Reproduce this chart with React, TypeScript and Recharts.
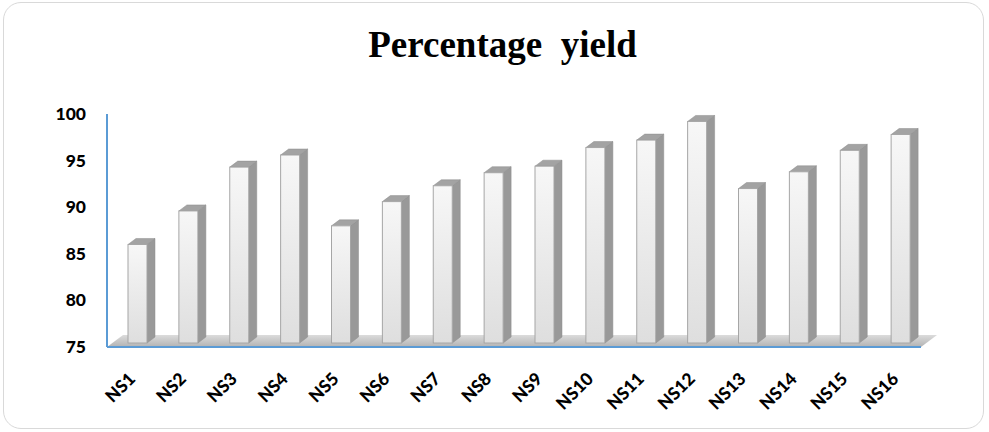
import React from "react";
import { BarChart, Bar, XAxis, YAxis, ReferenceArea } from "recharts";

// Sample labels and their percentage yields
const samples = [
  "NS1", "NS2", "NS3", "NS4", "NS5", "NS6", "NS7", "NS8",
  "NS9", "NS10", "NS11", "NS12", "NS13", "NS14", "NS15", "NS16",
];
const yields = [86, 89.6, 94.3, 95.6, 88, 90.6, 92.3, 93.7, 94.4, 96.4, 97.2, 99.2, 92, 93.8, 96.1, 97.8];
const yTicks = [75, 80, 85, 90, 95, 100];

const data = samples.map((name, i) => ({ name, value: yields[i] }));

const W = 989;
const H = 432;

// 3D look: depth of bar side/top faces and where bars sit on the floor
const DX = 8;
const DY = 6;
const SHIFT_X = 5;
const LIFT = 4;

const Bar3D = (props: any) => {
  const { x, y, width, height } = props;
  if (height == null || width == null) return null;
  const fx = x + SHIFT_X;
  const fy = y;
  const fh = height - LIFT;
  const fw = width;
  const top = `${fx},${fy} ${fx + DX},${fy - DY} ${fx + fw + DX},${fy - DY} ${fx + fw},${fy}`;
  const side = `${fx + fw},${fy} ${fx + fw + DX},${fy - DY} ${fx + fw + DX},${fy + fh - DY} ${fx + fw},${fy + fh}`;
  return (
    <g>
      <polygon points={side} fill="#999999" stroke="#8c8c8c" strokeWidth={0.5} />
      <polygon points={top} fill="#a3a3a3" stroke="#8c8c8c" strokeWidth={0.5} />
      <rect x={fx} y={fy} width={fw} height={fh} fill="url(#frontGrad)" stroke="#a6a6a6" strokeWidth={1} />
    </g>
  );
};

const Floor = (props: any) => {
  const { x, y, width, height } = props;
  const pts = `${x},${y + height} ${x + width},${y + height} ${x + width + 16},${y} ${x + 16},${y}`;
  return <polygon points={pts} fill="url(#floorGrad)" />;
};

const XTick = (props: any) => {
  const { x, y, payload } = props;
  const tx = x + 4;
  const ty = y + 25;
  return (
    <text
      x={tx}
      y={ty}
      textAnchor="end"
      transform={`rotate(-45, ${tx}, ${ty})`}
      fontFamily="Lato, 'Liberation Sans', sans-serif"
      fontWeight={900}
      fontSize={17.5}
      fill="#000"
    >
      {payload.value}
    </text>
  );
};

const YTick = (props: any) => {
  const { x, y, payload } = props;
  return (
    <text
      x={x}
      y={y}
      dy={6}
      textAnchor="end"
      fontFamily="Lato, 'Liberation Sans', sans-serif"
      fontWeight={900}
      fontSize={17.5}
      fill="#000"
    >
      {payload.value}
    </text>
  );
};

export default function App() {
  return (
    <div style={{ position: "absolute", left: 0, top: 0, width: W, height: H, background: "#fff" }}>
      <div
        style={{
          position: "absolute",
          left: 3,
          top: 2,
          width: W - 8,
          height: H - 5,
          border: "1.5px solid #d9d9d9",
          borderRadius: 18,
          boxSizing: "border-box",
        }}
      />
      <div
        style={{
          position: "absolute",
          left: 0,
          top: 25,
          width: 1005,
          textAlign: "center",
          fontFamily: "'Liberation Serif', 'Times New Roman', serif",
          fontWeight: 700,
          fontSize: 37,
          lineHeight: "40px",
          whiteSpace: "pre",
          color: "#000",
        }}
      >
        {"Percentage  yield"}
      </div>
      <div style={{ position: "absolute", left: 0, top: 0 }}>
        <BarChart
          width={W}
          height={H}
          data={data}
          margin={{ top: 114, right: 68, bottom: 0, left: 0 }}
          barCategoryGap={0}
        >
          <defs>
            <linearGradient id="frontGrad" x1="0" y1="0" x2="0" y2="1">
              <stop offset="0%" stopColor="#f7f7f7" />
              <stop offset="100%" stopColor="#dedede" />
            </linearGradient>
            <linearGradient id="floorGrad" x1="0" y1="0" x2="0" y2="1">
              <stop offset="0%" stopColor="#dcdcdc" />
              <stop offset="100%" stopColor="#b3b3b3" />
            </linearGradient>
          </defs>
          <XAxis
            dataKey="name"
            height={85}
            interval={0}
            tickLine={false}
            axisLine={{ stroke: "#5b9bd5", strokeWidth: 2 }}
            tick={<XTick />}
          />
          <YAxis
            domain={[75, 100]}
            ticks={yTicks}
            allowDataOverflow
            width={107}
            tickLine={false}
            tickMargin={15}
            axisLine={{ stroke: "#5b9bd5", strokeWidth: 2 }}
            tick={<YTick />}
          />
          <ReferenceArea y1={75} y2={76.3} shape={<Floor />} ifOverflow="visible" />
          <Bar dataKey="value" barSize={19} shape={<Bar3D />} isAnimationActive={false} />
        </BarChart>
      </div>
    </div>
  );
}
